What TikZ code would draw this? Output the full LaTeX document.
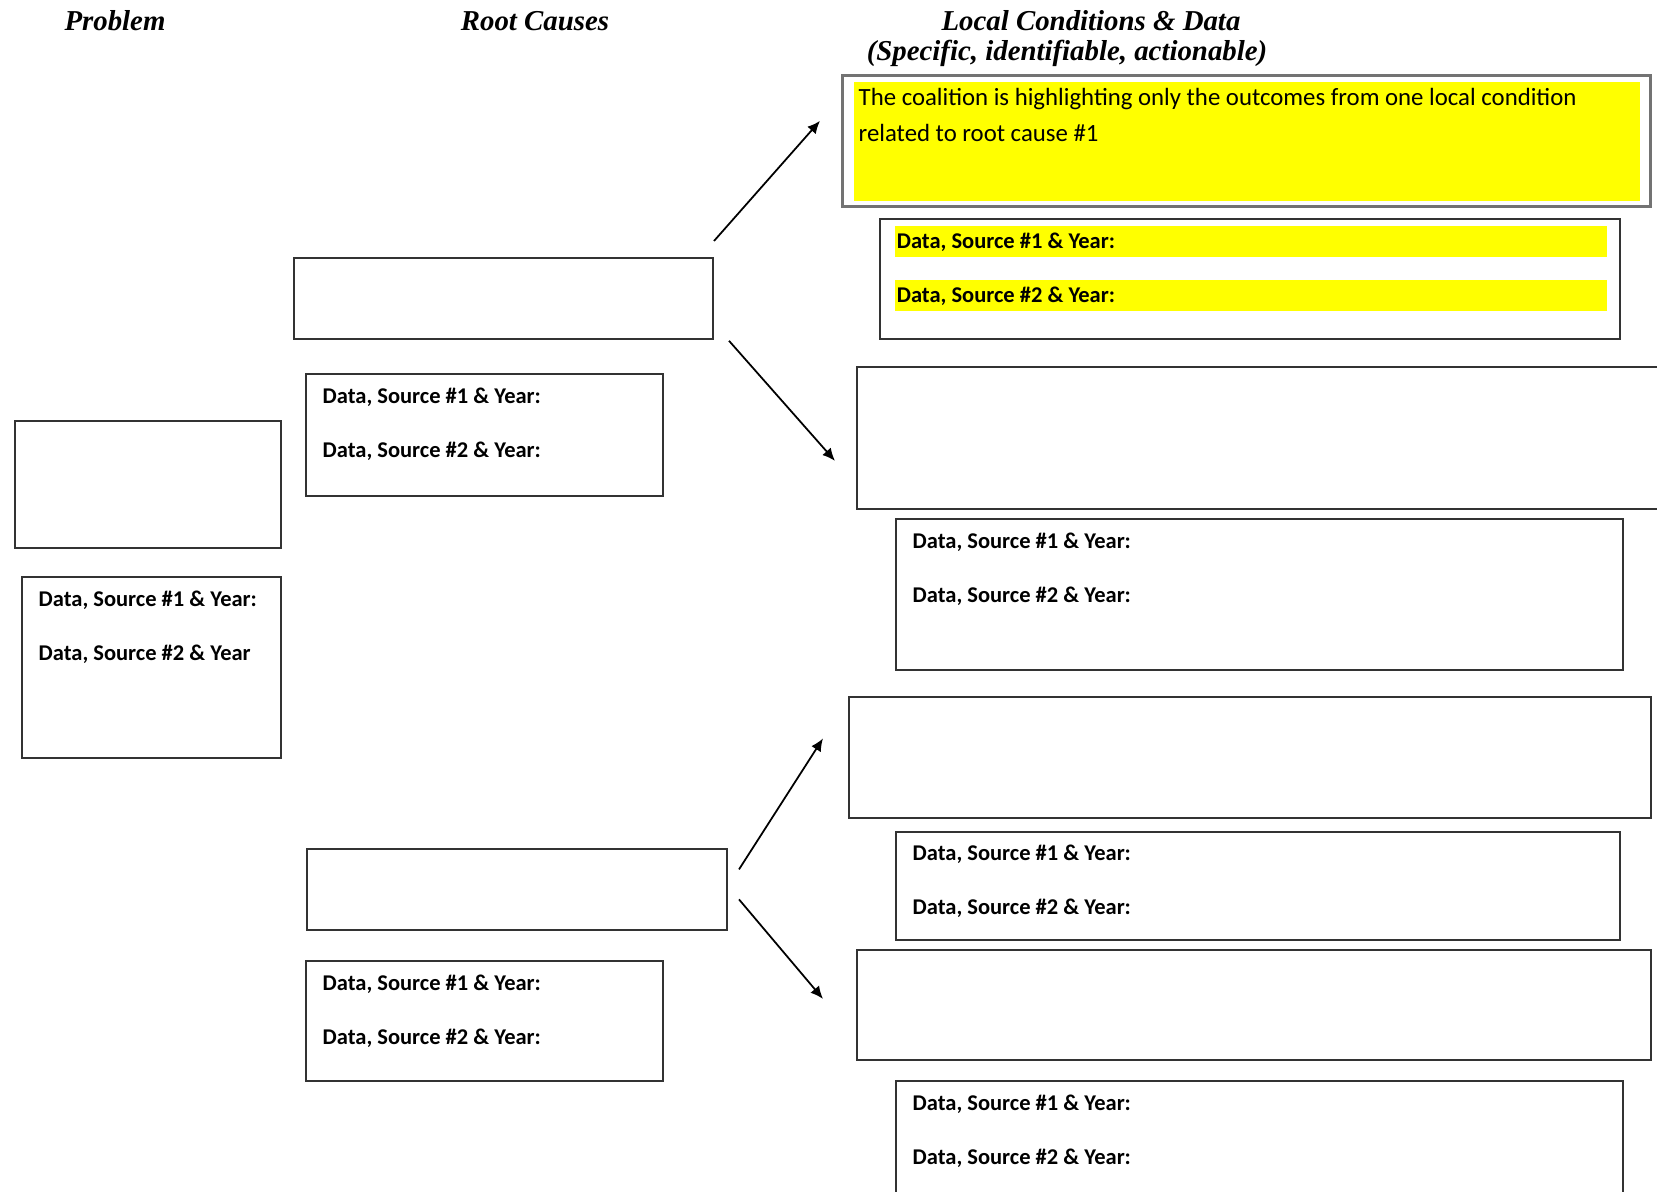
\documentclass[tikz,border=0pt]{standalone}
\usepackage{fontspec}
\setmainfont{Carlito}
\newfontfamily\headfont{Liberation Serif}
\usetikzlibrary{arrows.meta,positioning,calc}
\definecolor{hiyellow}{RGB}{255,255,0}

\begin{document}
\begin{tikzpicture}[
  x=0.01cm, y=-0.01cm,
  box/.style={draw=black!80, line width=0.5pt, anchor=north west, inner sep=0pt},
  head/.style={font=\headfont\bfseries\itshape\fontsize{8.2}{10}\selectfont, inner sep=0pt},
  dat/.style={font=\fontsize{6.4}{8}\selectfont\bfseries, anchor=west, inner sep=0pt},
  hl/.style={dat, fill=hiyellow, inner sep=0.6pt, minimum height=0.31cm, text width=7.08cm, align=flush left},
  note/.style={font=\fontsize{7.05}{10.2}\selectfont, anchor=north west, align=flush left, inner sep=0pt},
  arr/.style={-{Latex[length=3.6pt,width=3.2pt]}, line width=0.5pt}]
\clip (0,0) rectangle (1657,1192);
% column heads
\node[head] (hprob) at (115,21) {Problem};
\node[head] (hroot) at (535,21) {Root Causes};
\node[head] (hlocal) at (1091,21) {Local Conditions \& Data};
\node[head] (hsub) at (1067,53) {(Specific, identifiable, actionable)};
% problem
\node[box, minimum width=2.66cm, minimum height=1.27cm] (prob) at (14,420) {};
\node[box, minimum width=2.59cm, minimum height=1.81cm] (probd) at (21,576) {};
\node[dat] (proba) at ([shift={(17,24)}]probd.north west) {Data, Source \#1 \& Year:};
\node[dat] (probb) at ([shift={(17,78)}]probd.north west) {Data, Source \#2 \& Year};
% root causes
\node[box, minimum width=4.19cm, minimum height=0.81cm] (rc1) at (293,257) {};
\node[box, minimum width=3.57cm, minimum height=1.22cm] (rc1d) at (305,373) {};
\node[dat] (rc1a) at ([shift={(17,24)}]rc1d.north west) {Data, Source \#1 \& Year:};
\node[dat] (rc1b) at ([shift={(17,78)}]rc1d.north west) {Data, Source \#2 \& Year:};
\node[box, minimum width=4.20cm, minimum height=0.81cm] (rc2) at (306,848) {};
\node[box, minimum width=3.57cm, minimum height=1.20cm] (rc2d) at (305,960) {};
\node[dat] (rc2a) at ([shift={(17,24)}]rc2d.north west) {Data, Source \#1 \& Year:};
\node[dat] (rc2b) at ([shift={(17,78)}]rc2d.north west) {Data, Source \#2 \& Year:};
% local conditions
\node[box, draw=black!55, line width=0.75pt, minimum width=8.08cm, minimum height=1.31cm] (lc1) at (841,74) {};
\fill[hiyellow] ([shift={(13,8)}]lc1.north west) rectangle ([shift={(-12,-7)}]lc1.south east);
\node[note] (lc1txt) at ([shift={(17,14)}]lc1.north west) {The coalition is highlighting only the outcomes from one local condition\\related to root cause \#1};
\node[box, minimum width=7.40cm, minimum height=1.20cm] (lc1d) at (879,218) {};
\node[hl] (lc1a) at ([shift={(15,24)}]lc1d.north west) {Data, Source \#1 \& Year:};
\node[hl] (lc1b) at ([shift={(15,78)}]lc1d.north west) {Data, Source \#2 \& Year:};
\node[box, minimum width=8.10cm, minimum height=1.42cm] (lc2) at (856,366) {};
\node[box, minimum width=7.27cm, minimum height=1.51cm] (lc2d) at (895,518) {};
\node[dat] (lc2a) at ([shift={(17,24)}]lc2d.north west) {Data, Source \#1 \& Year:};
\node[dat] (lc2b) at ([shift={(17,78)}]lc2d.north west) {Data, Source \#2 \& Year:};
\node[box, minimum width=8.02cm, minimum height=1.21cm] (lc3) at (848,696) {};
\node[box, minimum width=7.24cm, minimum height=1.08cm] (lc3d) at (895,831) {};
\node[dat] (lc3a) at ([shift={(17,23)}]lc3d.north west) {Data, Source \#1 \& Year:};
\node[dat] (lc3b) at ([shift={(17,77)}]lc3d.north west) {Data, Source \#2 \& Year:};
\node[box, minimum width=7.94cm, minimum height=1.10cm] (lc4) at (856,949) {};
\node[box, minimum width=7.27cm, minimum height=2.00cm] (lc4d) at (895,1080) {};
\node[dat] (lc4a) at ([shift={(17,24)}]lc4d.north west) {Data, Source \#1 \& Year:};
\node[dat] (lc4b) at ([shift={(17,78)}]lc4d.north west) {Data, Source \#2 \& Year:};
% arrows
\draw[arr] ([shift={(0,-16)}]rc1.north east) -- ([shift={(-21,-20)}]lc1.west);
\draw[arr] ([shift={(15,1)}]rc1.south east) -- ([shift={(-21,23)}]lc2.west);
\draw[arr] ([shift={(11,-20)}]rc2.east) -- ([shift={(-25,-19)}]lc3.west);
\draw[arr] ([shift={(11,10)}]rc2.east) -- ([shift={(-33,-6)}]lc4.west);
\end{tikzpicture}
\end{document}
